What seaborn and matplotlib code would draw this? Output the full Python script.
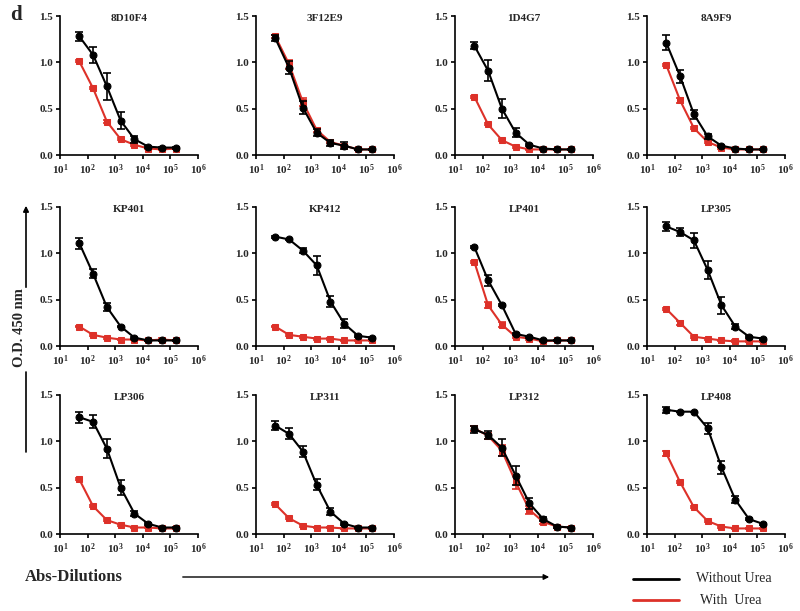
import matplotlib
matplotlib.use("Agg")
import matplotlib.pyplot as plt
import seaborn as sns
import pandas as pd
import numpy as np

sns.set_theme(style="ticks")
plt.rcParams['font.family'] = ['Liberation Serif', 'DejaVu Serif']
plt.rcParams['mathtext.fontset'] = 'custom'
plt.rcParams['mathtext.rm'] = 'Liberation Serif:bold'
plt.rcParams['mathtext.bf'] = 'Liberation Serif:bold'
plt.rcParams['mathtext.it'] = 'Liberation Serif:bold'
plt.rcParams['mathtext.default'] = 'rm'

dilutions = [50, 158, 500, 1581, 5000, 15811, 50000, 158114]
panel_names = ["8D10F4", "3F12E9", "1D4G7", "8A9F9",
               "KP401", "KP412", "LP401", "LP305",
               "LP306", "LP311", "LP312", "LP408"]

without_urea = {
    "8D10F4": [1.28, 1.08, 0.74, 0.37, 0.17, 0.09, 0.08, 0.08],
    "3F12E9": [1.26, 0.94, 0.51, 0.24, 0.13, 0.10, 0.06, 0.06],
    "1D4G7":  [1.18, 0.91, 0.50, 0.24, 0.11, 0.07, 0.06, 0.06],
    "8A9F9":  [1.21, 0.85, 0.44, 0.20, 0.10, 0.07, 0.06, 0.06],
    "KP401":  [1.11, 0.78, 0.42, 0.21, 0.09, 0.06, 0.06, 0.06],
    "KP412":  [1.18, 1.15, 1.03, 0.87, 0.48, 0.24, 0.11, 0.09],
    "LP401":  [1.07, 0.71, 0.44, 0.13, 0.10, 0.06, 0.06, 0.06],
    "LP305":  [1.29, 1.23, 1.14, 0.82, 0.44, 0.21, 0.10, 0.08],
    "LP306":  [1.26, 1.21, 0.92, 0.50, 0.22, 0.11, 0.07, 0.07],
    "LP311":  [1.17, 1.08, 0.89, 0.53, 0.24, 0.11, 0.07, 0.07],
    "LP312":  [1.13, 1.07, 0.93, 0.63, 0.33, 0.16, 0.08, 0.07],
    "LP408":  [1.34, 1.32, 1.32, 1.14, 0.72, 0.37, 0.16, 0.11],
}
without_err = {
    "8D10F4": [0.05, 0.09, 0.15, 0.09, 0.04, 0.01, 0.01, 0.01],
    "3F12E9": [0.03, 0.07, 0.07, 0.04, 0.03, 0.04, 0.01, 0.01],
    "1D4G7":  [0.04, 0.11, 0.10, 0.05, 0.01, 0.01, 0.01, 0.01],
    "8A9F9":  [0.08, 0.07, 0.05, 0.03, 0.01, 0.01, 0.01, 0.01],
    "KP401":  [0.06, 0.05, 0.04, 0.01, 0.01, 0.01, 0.01, 0.01],
    "KP412":  [0.01, 0.01, 0.03, 0.10, 0.06, 0.05, 0.01, 0.01],
    "LP401":  [0.01, 0.06, 0.01, 0.01, 0.01, 0.01, 0.01, 0.01],
    "LP305":  [0.05, 0.04, 0.08, 0.10, 0.09, 0.03, 0.01, 0.01],
    "LP306":  [0.06, 0.07, 0.10, 0.08, 0.03, 0.01, 0.01, 0.01],
    "LP311":  [0.05, 0.06, 0.06, 0.06, 0.04, 0.01, 0.01, 0.01],
    "LP312":  [0.04, 0.04, 0.09, 0.10, 0.06, 0.02, 0.01, 0.01],
    "LP408":  [0.03, 0.00, 0.00, 0.06, 0.07, 0.04, 0.01, 0.01],
}
with_urea = {
    "8D10F4": [1.01, 0.72, 0.36, 0.17, 0.11, 0.07, 0.06, 0.07],
    "3F12E9": [1.28, 0.98, 0.57, 0.27, 0.14, 0.10, 0.06, 0.06],
    "1D4G7":  [0.63, 0.33, 0.16, 0.09, 0.06, 0.06, 0.06, 0.06],
    "8A9F9":  [0.97, 0.59, 0.29, 0.14, 0.08, 0.06, 0.06, 0.06],
    "KP401":  [0.21, 0.12, 0.09, 0.07, 0.07, 0.06, 0.07, 0.06],
    "KP412":  [0.21, 0.12, 0.10, 0.08, 0.08, 0.06, 0.06, 0.06],
    "LP401":  [0.91, 0.44, 0.23, 0.10, 0.08, 0.05, 0.06, 0.06],
    "LP305":  [0.40, 0.25, 0.10, 0.08, 0.06, 0.05, 0.05, 0.05],
    "LP306":  [0.59, 0.30, 0.15, 0.10, 0.07, 0.07, 0.06, 0.06],
    "LP311":  [0.32, 0.17, 0.09, 0.07, 0.07, 0.06, 0.06, 0.06],
    "LP312":  [1.14, 1.06, 0.90, 0.56, 0.26, 0.13, 0.08, 0.07],
    "LP408":  [0.87, 0.56, 0.29, 0.14, 0.08, 0.06, 0.06, 0.06],
}
with_err = {
    "8D10F4": [0.01, 0.01, 0.02, 0.01, 0.01, 0.01, 0.01, 0.01],
    "3F12E9": [0.02, 0.05, 0.04, 0.02, 0.01, 0.01, 0.01, 0.01],
    "1D4G7":  [0.01, 0.01, 0.01, 0.01, 0.01, 0.01, 0.01, 0.01],
    "8A9F9":  [0.01, 0.03, 0.01, 0.01, 0.01, 0.01, 0.01, 0.01],
    "KP401":  [0.01, 0.01, 0.01, 0.01, 0.01, 0.01, 0.02, 0.01],
    "KP412":  [0.01, 0.01, 0.01, 0.01, 0.01, 0.01, 0.01, 0.01],
    "LP401":  [0.01, 0.03, 0.03, 0.01, 0.01, 0.01, 0.01, 0.01],
    "LP305":  [0.01, 0.02, 0.01, 0.01, 0.01, 0.01, 0.01, 0.01],
    "LP306":  [0.01, 0.01, 0.01, 0.01, 0.01, 0.01, 0.01, 0.01],
    "LP311":  [0.01, 0.01, 0.01, 0.01, 0.01, 0.01, 0.01, 0.01],
    "LP312":  [0.03, 0.03, 0.06, 0.07, 0.04, 0.02, 0.01, 0.01],
    "LP408":  [0.03, 0.01, 0.01, 0.01, 0.01, 0.01, 0.01, 0.01],
}

x_ticks = [1e1, 1e2, 1e3, 1e4, 1e5, 1e6]
x_ticklabels = [r"$10^{1}$", r"$10^{2}$", r"$10^{3}$", r"$10^{4}$", r"$10^{5}$", r"$10^{6}$"]
y_ticks = [0.0, 0.5, 1.0, 1.5]
y_ticklabels = ["0.0", "0.5", "1.0", "1.5"]

RED = "#dd3129"
BLACK = "#000000"

W, H = 800, 611
fig = plt.figure(figsize=(W / 100, H / 100), dpi=100)

col_left = [60, 256, 455, 647]
row_top = [16, 207, 395]
ax_w, ax_h = 138, 139

for i, name in enumerate(panel_names):
    r, c = divmod(i, 4)
    ax = fig.add_axes([col_left[c] / W, 1 - (row_top[r] + ax_h) / H, ax_w / W, ax_h / H])
    df = pd.DataFrame({
        "dilution": dilutions * 2,
        "od": with_urea[name] + without_urea[name],
        "cond": ["With Urea"] * 8 + ["Without Urea"] * 8,
    })
    ax.errorbar(dilutions, with_urea[name], yerr=with_err[name], fmt="none",
                ecolor=RED, elinewidth=1.2, capsize=3, capthick=1.2, zorder=2)
    ax.errorbar(dilutions, without_urea[name], yerr=without_err[name], fmt="none",
                ecolor=BLACK, elinewidth=1.2, capsize=3, capthick=1.2, zorder=4)
    sns.lineplot(data=df[df.cond == "With Urea"], x="dilution", y="od", ax=ax,
                 color=RED, marker="s", markersize=5, markeredgecolor=RED,
                 linewidth=1.5, legend=False, zorder=3)
    sns.lineplot(data=df[df.cond == "Without Urea"], x="dilution", y="od", ax=ax,
                 color=BLACK, marker="o", markersize=5, markeredgecolor=BLACK,
                 linewidth=1.5, legend=False, zorder=5)
    ax.set_xscale("log")
    ax.set_xlim(1e1, 1e6)
    ax.set_ylim(0, 1.5)
    ax.set_xticks(x_ticks)
    ax.set_xticklabels(x_ticklabels)
    ax.xaxis.set_minor_locator(matplotlib.ticker.NullLocator())
    ax.set_yticks(y_ticks)
    ax.set_yticklabels(y_ticklabels)
    ax.tick_params(axis="both", labelsize=8, length=3, width=1.2, pad=2, color="black")
    for lab in ax.get_yticklabels():
        lab.set_fontweight("bold")
    ax.set_xlabel("")
    ax.set_ylabel("")
    ax.text(0.5, 0.985, name, transform=ax.transAxes, fontsize=8, fontweight="bold",
            ha="center", va="center")
    for s in ["top", "right"]:
        ax.spines[s].set_visible(False)
    for s in ["left", "bottom"]:
        ax.spines[s].set_linewidth(1.2)
        ax.spines[s].set_color("black")
    ax.set_facecolor("none")

# panel letter
fig.text(10 / W, 1 - 15 / H, "d", fontsize=15, fontweight="bold", va="center", ha="left")

# y label with arrow
fig.text(20 / W, 1 - 328 / H, "O.D. 450 nm", rotation=90, fontsize=10.5,
         fontweight="bold", va="center", ha="center")
fig.add_artist(matplotlib.lines.Line2D([26 / W, 26 / W], [1 - 452 / H, 1 - 372 / H],
                                       color="black", lw=1.2))
fig.add_artist(matplotlib.patches.FancyArrowPatch((26 / W, 1 - 290 / H), (26 / W, 1 - 203 / H),
                                                  transform=fig.transFigure, arrowstyle="-|>",
                                                  mutation_scale=8, color="black", lw=1.2))

# x label with arrow
fig.text(25 / W, 1 - 577 / H, "Abs-Dilutions", fontsize=12, fontweight="bold",
         va="center", ha="left")
fig.add_artist(matplotlib.patches.FancyArrowPatch((180 / W, 1 - 577 / H), (552 / W, 1 - 577 / H),
                                                  transform=fig.transFigure, arrowstyle="-|>",
                                                  mutation_scale=8, color="black", lw=1.0))

# legend
fig.add_artist(matplotlib.lines.Line2D([633 / W, 679 / W], [1 - 579 / H, 1 - 579 / H],
                                       color=BLACK, lw=2))
fig.add_artist(matplotlib.lines.Line2D([633 / W, 679 / W], [1 - 600 / H, 1 - 600 / H],
                                       color=RED, lw=2))
fig.text(696 / W, 1 - 579 / H, "Without Urea", fontsize=10, va="center", ha="left")
fig.text(700 / W, 1 - 600 / H, "With  Urea", fontsize=10, va="center", ha="left")

fig.savefig("out.png", dpi=100)
